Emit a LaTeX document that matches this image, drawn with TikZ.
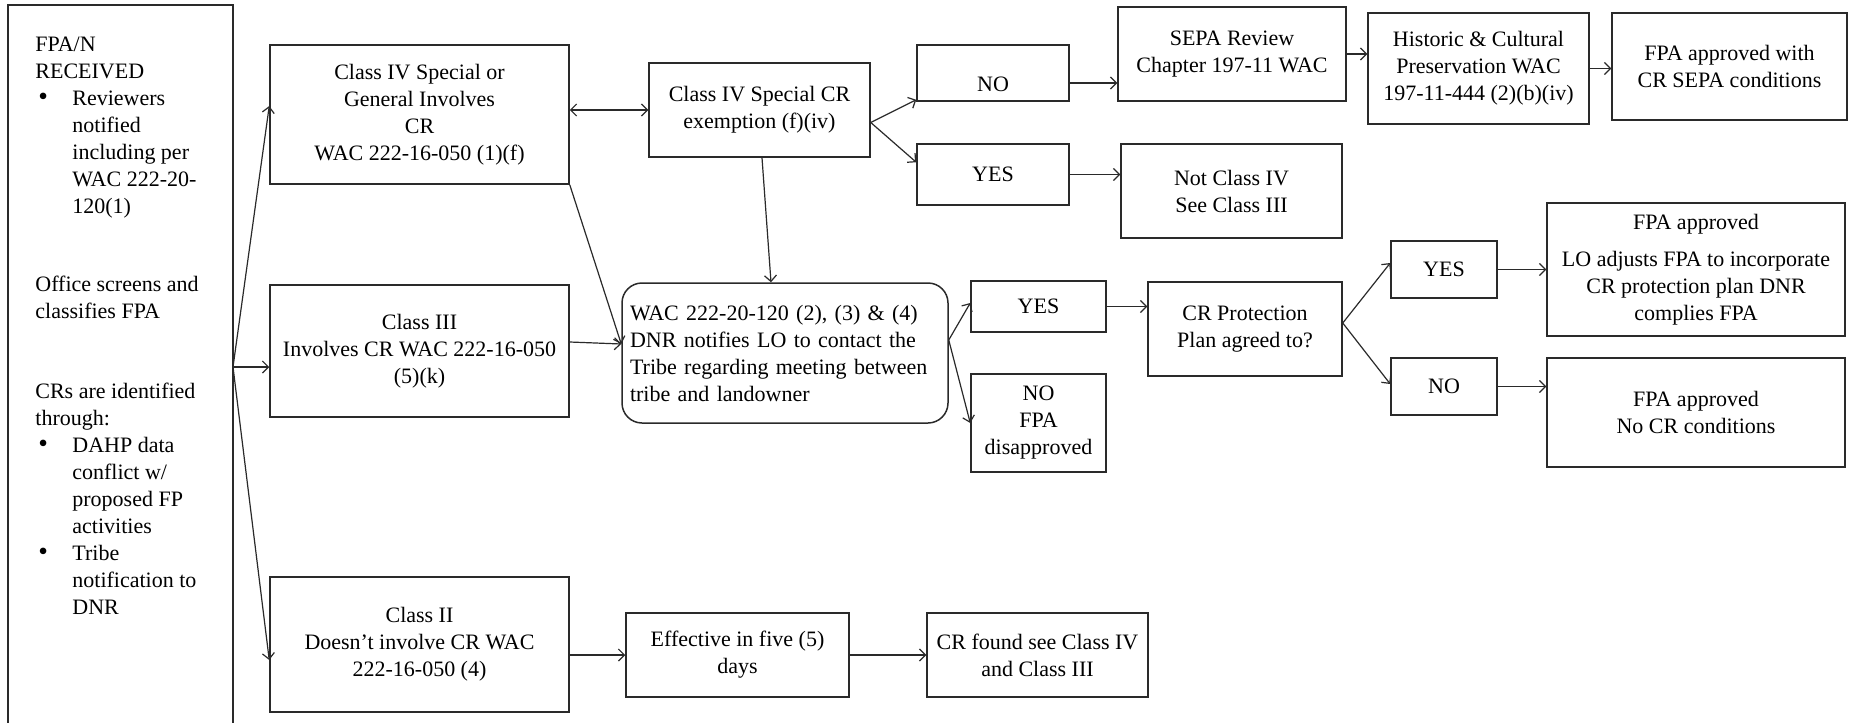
\documentclass[tikz,border=0pt]{standalone}
\usepackage{fontspec}
\setmainfont{Liberation Serif}
\usetikzlibrary{arrows.meta,calc}
\definecolor{boxc}{HTML}{2A2A2A}
\definecolor{linec}{HTML}{2A2A2A}
\newcommand\mybox[7][]{%
  \pgfmathsetmacro\bxw{(#5-#3)*0.5}%
  \pgfmathsetmacro\bxh{(#6-#4)*0.5}%
  \node[box,minimum width=\bxw pt,minimum height=\bxh pt,#1] (#2) at ({(#3+#5)/2},{(#4+#6)/2}) {#7};}
\newcommand\mybul{\hspace*{1.5pt}\makebox[17pt][l]{\scalebox{1.25}{\textbullet}}}
\tikzset{
  every node/.style={font=\rmfamily\fontsize{11}{13.5}\selectfont},
  box/.style={draw=boxc, line width=0.75pt, inner sep=0pt, align=center},
  arr/.style={draw=linec, line width=0.6pt, -{Straight Barb[length=3pt,width=6pt]}},
  darr/.style={draw=linec, line width=0.6pt, {Straight Barb[length=3pt,width=6pt]}-{Straight Barb[length=3pt,width=6pt]}},
}
\begin{document}
\begin{tikzpicture}[x=0.5pt,y=-0.5pt]
\useasboundingbox (0,0) rectangle (1849,723);
\fill[white] (0,0) rectangle (1849,723);
% left box
\mybox{recv}{8}{5}{233}{760}{}
\node[anchor=north west, inner sep=0pt, align=left] (recvt) at (35,37) {%
FPA/N\\
RECEIVED\\
\mybul Reviewers\\
\hspace*{18.5pt}notified\\
\hspace*{18.5pt}including per\\
\hspace*{18.5pt}WAC 222-20-\\
\hspace*{18.5pt}120(1)\\[25.5pt]
Office screens and\\
classifies FPA\\[26.5pt]
CRs are identified\\
through:\\
\mybul DAHP data\\
\hspace*{18.5pt}conflict w/\\
\hspace*{18.5pt}proposed FP\\
\hspace*{18.5pt}activities\\
\mybul Tribe\\
\hspace*{18.5pt}notification to\\
\hspace*{18.5pt}DNR};
\coordinate (F) at (233,367);
% boxes
\mybox{c4}{270}{45}{569}{184}{Class IV Special or\\General Involves\\CR\\WAC 222-16-050 (1)(f)}
\mybox{ex}{649}{63}{870}{157}{Class IV Special CR\\exemption (f)(iv)}
\mybox{no1}{917}{45}{1069}{101}{\raisebox{-5.5pt}[\height][\depth]{NO}}
\mybox{sepa}{1118}{7}{1346}{101}{SEPA Review\\Chapter 197-11 WAC}
\mybox{hist}{1368}{13}{1589}{124}{Historic \& Cultural\\Preservation WAC\\197-11-444 (2)(b)(iv)}
\mybox{fpa1}{1612}{13}{1847}{120}{FPA approved with\\CR SEPA conditions}
\mybox{yes1}{917}{144}{1069}{205}{YES}
\mybox{nc4}{1121}{144}{1342}{238}{Not Class IV\\See Class III}
\mybox{c3}{270}{285}{569}{417}{Class III\\Involves CR WAC 222-16-050\\(5)(k)}
\mybox[rounded corners=10pt, align=left, text width=155pt, inner xsep=4pt]{wac}{622}{283}{948}{423}{WAC 222-20-120 (2), (3) \& (4)\\DNR notifies LO to contact the\\Tribe regarding meeting between\\tribe and landowner}
\mybox{yes2}{971}{281}{1106}{332}{YES}
\mybox{no2}{971}{374}{1106}{472}{NO\\FPA\\disapproved}
\mybox{crp}{1148}{282}{1342}{376}{CR Protection\\Plan agreed to?}
\mybox{yes3}{1391}{241}{1497}{298}{YES}
\mybox{no3}{1391}{358}{1497}{415}{NO}
\mybox{fpaL}{1547}{203}{1845}{336}{FPA approved\\[5pt]LO adjusts FPA to incorporate\\CR protection plan DNR\\complies FPA}
\mybox{fpaN}{1547}{358}{1845}{467}{FPA approved\\No CR conditions}
\mybox{c2}{270}{577}{569}{712}{Class II\\Doesn’t involve CR WAC\\222-16-050 (4)}
\mybox{eff}{626}{613}{849}{697}{Effective in five (5)\\days}
\mybox{crf}{927}{613}{1148}{697}{CR found see Class IV\\and Class III}
% connectors
\draw[arr] (F) -- ($(c4.west)+(0,-8.5)$);
\draw[arr] (F) -- (c3.west |- F);
\draw[arr] (F) -- ($(c2.west)+(0,15.5)$);
\draw[darr] (c4.east |- ex.west) -- (ex.west);
\coordinate (W) at ($(wac.west)+(0,-9)$);
\draw[arr] (c4.south east) -- (W);
\draw[arr] ($(c3.east)+(0,-9)$) -- (W);
\draw[arr] ($(ex.south)+(2.5,0)$) -- ($(wac.north)+(-14,0)$);
\coordinate (E) at ($(ex.east)+(0,12.5)$);
\draw[arr] (E) -- ($(no1.south west)+(0,-2)$);
\draw[arr] (E) -- ($(yes1.north west)+(0,19)$);
\draw[arr] ($(no1.east)+(0,10)$) -- ($(sepa.west)+(0,29)$);
\draw[arr] (yes1.east) -- (yes1.east -| nc4.west);
\draw[arr] (sepa.east) -- (sepa.east -| hist.west);
\draw[arr] (hist.east) -- (hist.east -| fpa1.west);
\coordinate (R) at ($(wac.east)+(0,-13)$);
\draw[arr] (R) -- ($(yes2.west)+(0,-3.5)$);
\draw[arr] (R) -- (no2.west);
\draw[arr] (yes2.east) -- (yes2.east -| crp.west);
\coordinate (P) at ($(crp.east)+(0,-6)$);
\draw[arr] (P) -- ($(yes3.west)+(0,-6.5)$);
\draw[arr] (P) -- ($(no3.west)+(0,-2.5)$);
\draw[arr] (yes3.east) -- (yes3.east -| fpaL.west);
\draw[arr] (no3.east) -- (no3.east -| fpaN.west);
\draw[arr] (eff.west -| c2.east) -- (eff.west);
\draw[arr] (eff.east) -- (crf.west);
\end{tikzpicture}
\end{document}
